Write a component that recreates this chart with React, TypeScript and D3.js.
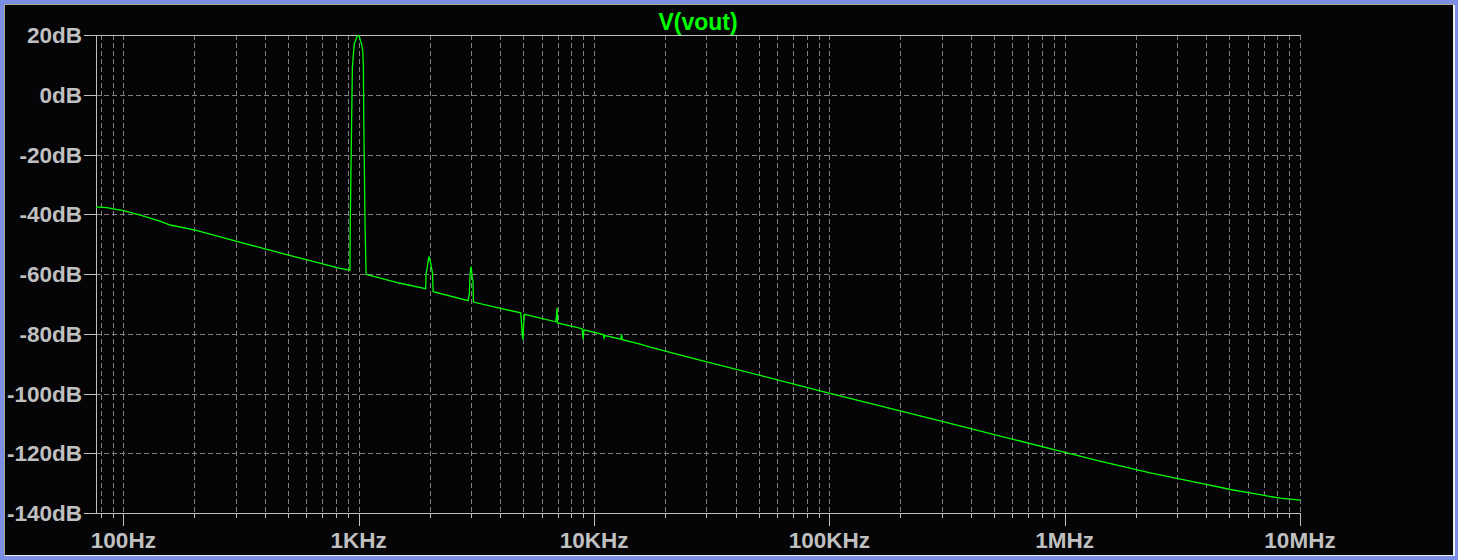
import React from "react";
import * as d3 from "d3";

const W = 1458;
const H = 560;

const title = "V(vout)";

// Frequencies (Hz) and magnitude (dB) of V(vout)
const freqs = [
  76.5, 85, 92, 100, 118, 143, 158, 202, 298, 400, 564, 834, 918,
  921, 933, 940, 950, 959, 972, 982, 997, 1007, 1017, 1031, 1041, 1047, 1051, 1064, 1075,
  1086, 1500, 1925,
  1934, 1959, 1986, 1998, 2012, 2032, 2058, 2072,
  2916, 2954, 2974, 3004, 3034, 3060, 3073,
  4000, 4880, 4920, 4950, 4990, 5020, 5060,
  6880, 6920, 6965, 6995,
  8900, 8990, 9060,
  10950, 11040, 11130,
  13000, 13100, 13200,
  15700, 17300, 28200, 91300, 287000, 955000,
  1410000, 2310000, 3760000, 5190000, 6140000, 7230000, 8230000, 10000000,
];
const dbs = [
  -37.5, -37.8, -38.3, -38.8, -40.3, -42.3, -43.6, -45.3, -48.9, -51.6, -54.7, -58.1, -58.7,
  -42.3, -9, 9, 13.9, 17.2, 18.3, 19.4, 20, 19.4, 18.1, 16.7, 14.4, 9.4, -9, -43.3, -60.1,
  -60.2, -63.1, -64.9,
  -60, -57.3, -54.4, -54.4, -55.5, -57.3, -59.7, -65.9,
  -68.9, -66.4, -60, -57.5, -60.9, -62.5, -69.4,
  -71.5, -73, -76.5, -80, -82, -77, -73.5,
  -76, -74.3, -71.3, -76.4,
  -78.3, -81.8, -78.7,
  -80.3, -81.5, -80.6,
  -81.8, -80.2, -82,
  -83.5, -84.5, -88.8, -99.1, -108.9, -119.3,
  -122.6, -126.6, -130.0, -132.3, -133.3, -134.3, -135.0, -135.7,
];

const yTicks = [20, 0, -20, -40, -60, -80, -100, -120, -140];
const yTickLabels = ["20dB", "0dB", "-20dB", "-40dB", "-60dB", "-80dB", "-100dB", "-120dB", "-140dB"];
const xMajor = [100, 1e3, 1e4, 1e5, 1e6, 1e7];
const xMajorLabels = ["100Hz", "1KHz", "10KHz", "100KHz", "1MHz", "10MHz"];
const xDomain = [76.5, 1e7];
const yDomain = [-140, 20];

export default function App() {
  const L = 96, R = 1300, T = 35, B = 513;
  const x = d3.scaleLog().domain(xDomain).range([L, R]);
  const y = d3.scaleLinear().domain(yDomain).range([B, T]);

  const minor: number[] = [];
  for (let dec = 10; dec <= 1e7; dec *= 10) {
    for (let k = 1; k <= 9; k++) {
      const v = k * dec;
      if (v >= xDomain[0] && v <= xDomain[1] * 1.0001) minor.push(v);
    }
  }
  const isMajor = (v: number) => xMajor.some((m) => Math.abs(m - v) / m < 1e-6);

  const pts: [number, number][] = freqs.map((f, i) => [f, dbs[i]]);
  const line = d3
    .line<[number, number]>()
    .x((d) => x(d[0]))
    .y((d) => y(d[1]));

  const font = "'Liberation Sans', Arial, sans-serif";
  const axisCol = "#c0c0c0";
  const gridCol = "#808080";

  return (
    <svg
      width={W}
      height={H}
      style={{ position: "absolute", left: 0, top: 0, display: "block" }}
    >
      <rect x={0} y={0} width={W} height={H} fill="#7b8fe6" />
      <rect x={4} y={4} width={1450} height={552} fill="#a8a48c" />
      <rect x={5} y={5} width={1450} height={551} fill="#f0f0f0" />
      <rect x={5} y={5} width={1448} height={550} fill="#050508" />

      <defs>
        <clipPath id="plotclip">
          <rect x={L} y={T} width={R - L} height={B - T} />
        </clipPath>
      </defs>

      {/* vertical grid */}
      {minor.map((v, i) => (
        <line
          key={"vg" + i}
          x1={Math.round(x(v)) + 0.5}
          x2={Math.round(x(v)) + 0.5}
          y1={T}
          y2={B}
          stroke={gridCol}
          strokeWidth={1}
          strokeDasharray="5,3"
        />
      ))}
      {/* horizontal grid */}
      {yTicks
        .filter((t) => t !== yDomain[0] && t !== yDomain[1])
        .map((t, i) => (
          <line
            key={"hg" + i}
            x1={L}
            x2={R}
            y1={Math.round(y(t)) + 0.5}
            y2={Math.round(y(t)) + 0.5}
            stroke={gridCol}
            strokeWidth={1}
            strokeDasharray="5,3"
          />
        ))}

      {/* frame */}
      <line x1={L + 0.5} x2={L + 0.5} y1={T} y2={B + 0.5} stroke={axisCol} strokeWidth={1} />
      <line x1={L} x2={R + 0.5} y1={T + 0.5} y2={T + 0.5} stroke={axisCol} strokeWidth={1} />
      <line x1={L} x2={R + 0.5} y1={B + 0.5} y2={B + 0.5} stroke={axisCol} strokeWidth={1} />

      {/* y ticks and labels */}
      {yTicks.map((t, i) => (
        <g key={"yt" + i}>
          <line
            x1={84}
            x2={L}
            y1={Math.round(y(t)) + 0.5}
            y2={Math.round(y(t)) + 0.5}
            stroke={axisCol}
            strokeWidth={1}
          />
          <text
            x={82}
            y={y(t) + 8}
            textAnchor="end"
            fill={axisCol}
            fontFamily={font}
            fontWeight="bold"
            fontSize={22.5}
          >
            {yTickLabels[i]}
          </text>
        </g>
      ))}

      {/* x ticks */}
      {minor.map((v, i) => (
        <line
          key={"xt" + i}
          x1={Math.round(x(v)) + 0.5}
          x2={Math.round(x(v)) + 0.5}
          y1={B}
          y2={isMajor(v) ? B + 13 : B + 5}
          stroke={axisCol}
          strokeWidth={1}
        />
      ))}
      {xMajor.map((v, i) => (
        <text
          key={"xl" + i}
          x={x(v)}
          y={548}
          textAnchor="middle"
          fill={axisCol}
          fontFamily={font}
          fontWeight="bold"
          fontSize={22.5}
        >
          {xMajorLabels[i]}
        </text>
      ))}

      {/* title */}
      <text
        x={(L + R) / 2}
        y={29.5}
        textAnchor="middle"
        fill="#00ff00"
        fontFamily={font}
        fontWeight="bold"
        fontSize={23}
      >
        {title}
      </text>

      {/* trace */}
      <path
        d={line(pts) || ""}
        fill="none"
        stroke="#00ff00"
        strokeWidth={1.3}
        clipPath="url(#plotclip)"
      />
    </svg>
  );
}
